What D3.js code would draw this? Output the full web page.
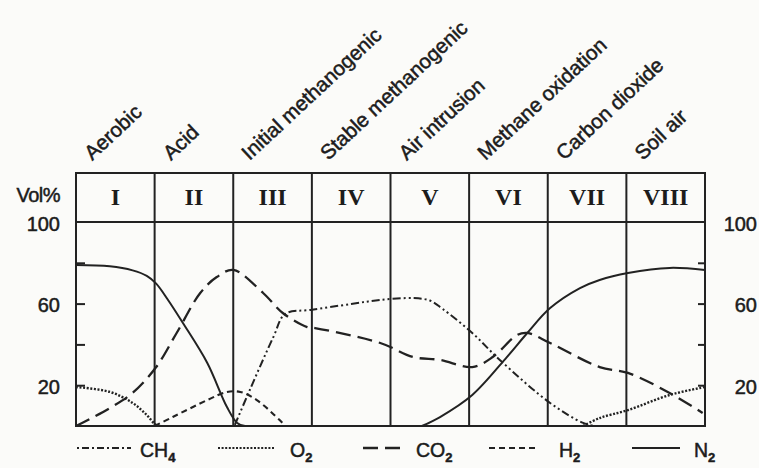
<!DOCTYPE html>
<html>
<head>
<meta charset="utf-8">
<script src="https://cdn.jsdelivr.net/npm/d3@7"></script>
<style>
  html, body { margin: 0; padding: 0; background: #fbfbf9; }
  svg { display: block; }
  text { fill: #1c1c1c; }
</style>
</head>
<body>
<svg id="chart" width="759" height="468"></svg>
<script>
// ---------- DATA ----------
const phaseNumerals = ["I", "II", "III", "IV", "V", "VI", "VII", "VIII"];
const phaseNames = ["Aerobic", "Acid", "Initial methanogenic", "Stable methanogenic",
                    "Air intrusion", "Methane oxidation", "Carbon dioxide", "Soil air"];
const yTickValues = [20, 40, 60, 80];
const yTickLabels = [20, 60, 100];

// positions along the phase axis (0 = start of phase I, 8 = end of phase VIII), values in Vol%
const ch4Pos = [2.02, 2.21, 2.51, 2.66, 2.98, 3.50, 3.87, 4.29, 4.50, 4.66, 5.04, 5.39, 6.03, 6.45, 6.60];
const ch4Val = [0.5, 17.6, 43.6, 54.9, 56.9, 59.8, 61.8, 62.7, 61.5, 57.5, 45.6, 32.4, 11.3, 1.5, 0];

const o2Pos = [0, 0.43, 0.72, 0.90, 1.00, 1.04, null, 6.45, 6.66, 7.02, 7.55, 8.0];
const o2Val = [19.1, 16.7, 11.3, 5.4, 1.0, 0, null, 0, 3.9, 7.8, 15.2, 19.1];

const co2Pos = [0, 0.43, 0.72, 1.02, 1.28, 1.58, 1.79, 2.0, 2.38, 2.63, 2.94, 3.04, 3.87, 4.29,
                4.63, 5.04, 5.30, 5.61, 5.74, 6.03, 6.66, 7.02, 7.55, 7.97];
const co2Val = [0, 8.8, 16.2, 28.9, 45.6, 65.2, 73, 76.5, 65.2, 55.4, 48.5, 48, 40.7, 33.8,
                32.4, 28.9, 33.8, 44.6, 45.6, 40.7, 28.9, 26, 16.2, 6.4];

const h2Pos = [1.0, 1.23, 1.67, 1.92, 2.09, 2.30, 2.59, 2.66];
const h2Val = [0, 4.4, 12.7, 16.7, 16.7, 12.7, 2.9, 0];

const n2Pos = [0, 0.43, 0.72, 0.90, 1.02, 1.16, 1.36, 1.67, 1.92, 2.05, 2.15, null,
               4.40, 4.63, 5.04, 5.48, 5.74, 6.03, 6.41, 6.66, 7.02, 7.55, 8.0];
const n2Val = [78.9, 78.3, 76.3, 73.6, 69.8, 62.4, 50.5, 30.9, 9.3, 1.5, 0, null,
               0, 4.4, 15.2, 33.8, 45.6, 57.8, 67.6, 71.6, 75, 77.5, 76.5];

const seriesNames = ["CH", "O", "CO", "H", "N"];
const seriesSubs = ["4", "2", "2", "2", "2"];

// ---------- STYLE / LAYOUT ----------
const ink = "#222222";
const styles = [
  { plotDash: "8,3,2,3,2,3", legendDash: "2,3,7,3", width: 2.0 },
  { plotDash: "2,1.6", legendDash: "2,1.6", width: 2.4 },
  { plotDash: "15,7", legendDash: "15,7", width: 2.3 },
  { plotDash: "6,4", legendDash: "6,4", width: 2.1 },
  { plotDash: null, legendDash: null, width: 2.0 }
];
const legendLayout = [
  { x0: 77, x1: 131, tx: 140 },
  { x0: 218, x1: 274, tx: 290 },
  { x0: 363, x1: 406, tx: 416 },
  { x0: 489, x1: 537, tx: 559 },
  { x0: 632, x1: 680, tx: 694 }
];
const textFont = "Liberation Sans, Arial, sans-serif";

const left = 76, right = 705, headerTop = 173, plotTop = 222, plotBottom = 426;

const svg = d3.select("#chart");
const x = d3.scaleLinear().domain([0, 8]).range([left, right]);
const y = d3.scaleLinear().domain([0, 100]).range([plotBottom, plotTop]);
const band = d3.scaleBand().domain(phaseNumerals).range([left, right]);

// ---------- CURVES ----------
function zipSeries(pos, val) {
  return pos.map((p, i) => (p === null ? null : [p, val[i]]));
}
const seriesData = [
  zipSeries(ch4Pos, ch4Val),
  zipSeries(o2Pos, o2Val),
  zipSeries(co2Pos, co2Val),
  zipSeries(h2Pos, h2Val),
  zipSeries(n2Pos, n2Val)
];
const line = d3.line()
  .defined(d => d !== null)
  .x(d => x(d[0]))
  .y(d => Math.min(y(0), y(d[1])))
  .curve(d3.curveCatmullRom.alpha(0.5));

svg.append("defs").append("clipPath").attr("id", "plotclip")
  .append("rect").attr("x", left).attr("y", plotTop).attr("width", right - left).attr("height", plotBottom - plotTop);

svg.append("g").attr("clip-path", "url(#plotclip)").selectAll("path")
  .data(seriesData)
  .join("path")
  .attr("d", line)
  .attr("fill", "none")
  .attr("stroke", ink)
  .attr("stroke-width", (d, i) => styles[i].width)
  .attr("stroke-dasharray", (d, i) => styles[i].plotDash)
  .attr("stroke-linecap", "butt");

// ---------- FRAME ----------
const frame = svg.append("g").attr("stroke", ink).attr("stroke-width", 2).attr("fill", "none");
frame.append("rect")
  .attr("x", left).attr("y", headerTop)
  .attr("width", right - left).attr("height", plotBottom - headerTop);
frame.append("line")
  .attr("x1", left).attr("x2", right)
  .attr("y1", y(100)).attr("y2", y(100));
frame.selectAll("line.div")
  .data(phaseNumerals.slice(1))
  .join("line")
  .attr("class", "div")
  .attr("x1", d => band(d)).attr("x2", d => band(d))
  .attr("y1", headerTop).attr("y2", plotBottom);

// inward tick marks
const tickL = svg.append("g").attr("transform", `translate(${left},0)`)
  .call(d3.axisRight(y).tickValues(yTickValues).tickSize(9).tickFormat(""));
const tickR = svg.append("g").attr("transform", `translate(${right},0)`)
  .call(d3.axisLeft(y).tickValues(yTickValues).tickSize(7).tickFormat(""));
[tickL, tickR].forEach(g => {
  g.select(".domain").remove();
  g.selectAll("line").attr("stroke", ink).attr("stroke-width", 2);
});

// tick labels
const labL = svg.append("g").attr("transform", `translate(${left},0)`)
  .call(d3.axisLeft(y).tickValues(yTickLabels).tickSize(0).tickPadding(16));
const labR = svg.append("g").attr("transform", `translate(757,0)`)
  .call(d3.axisLeft(y).tickValues(yTickLabels).tickSize(0).tickPadding(0));
[labL, labR].forEach(g => {
  g.select(".domain").remove();
  g.selectAll("text")
    .attr("font-family", textFont)
    .attr("font-size", 20)
    .attr("fill", "#1c1c1c")
    .attr("stroke", "#1c1c1c")
    .attr("stroke-width", 0.5)
    .attr("dy", "0.4em");
});

svg.append("text")
  .attr("x", 60).attr("y", 202)
  .attr("text-anchor", "end")
  .attr("font-family", textFont)
  .attr("font-size", 20)
  .attr("letter-spacing", -0.5)
  .attr("stroke", "#1c1c1c").attr("stroke-width", 0.5)
  .text("Vol%");

// ---------- HEADER ----------
svg.append("g").selectAll("text")
  .data(phaseNumerals)
  .join("text")
  .attr("x", d => band(d) + band.bandwidth() / 2)
  .attr("y", 205)
  .attr("text-anchor", "middle")
  .attr("font-family", "Liberation Serif, Times New Roman, serif")
  .attr("font-weight", "bold")
  .attr("font-size", 24)
  .text(d => d);

svg.append("g").selectAll("text")
  .data(phaseNames)
  .join("text")
  .attr("transform", (d, i) => `translate(${band(phaseNumerals[i]) + band.bandwidth() / 2 - 23},161) rotate(-43)`)
  .attr("font-family", textFont)
  .attr("font-size", 20.5)
  .attr("stroke", "#1c1c1c").attr("stroke-width", 0.5)
  .text(d => d);

// ---------- LEGEND ----------
const legendY = 448;
const lg = svg.append("g");
seriesNames.forEach((name, i) => {
  const L = legendLayout[i];
  lg.append("line")
    .attr("x1", L.x0).attr("x2", L.x1)
    .attr("y1", legendY).attr("y2", legendY)
    .attr("stroke", ink)
    .attr("stroke-width", i === 2 ? 2.6 : 2.0)
    .attr("stroke-dasharray", styles[i].legendDash);
  const t = lg.append("text")
    .attr("x", L.tx).attr("y", 457)
    .attr("font-family", textFont)
    .attr("font-size", 19.5)
    .attr("stroke", "#1c1c1c").attr("stroke-width", 0.5);
  t.append("tspan").text(name);
  t.append("tspan").attr("font-size", 13).attr("font-weight", "bold").attr("dy", 5).text(seriesSubs[i]);
});
</script>
</body>
</html>
